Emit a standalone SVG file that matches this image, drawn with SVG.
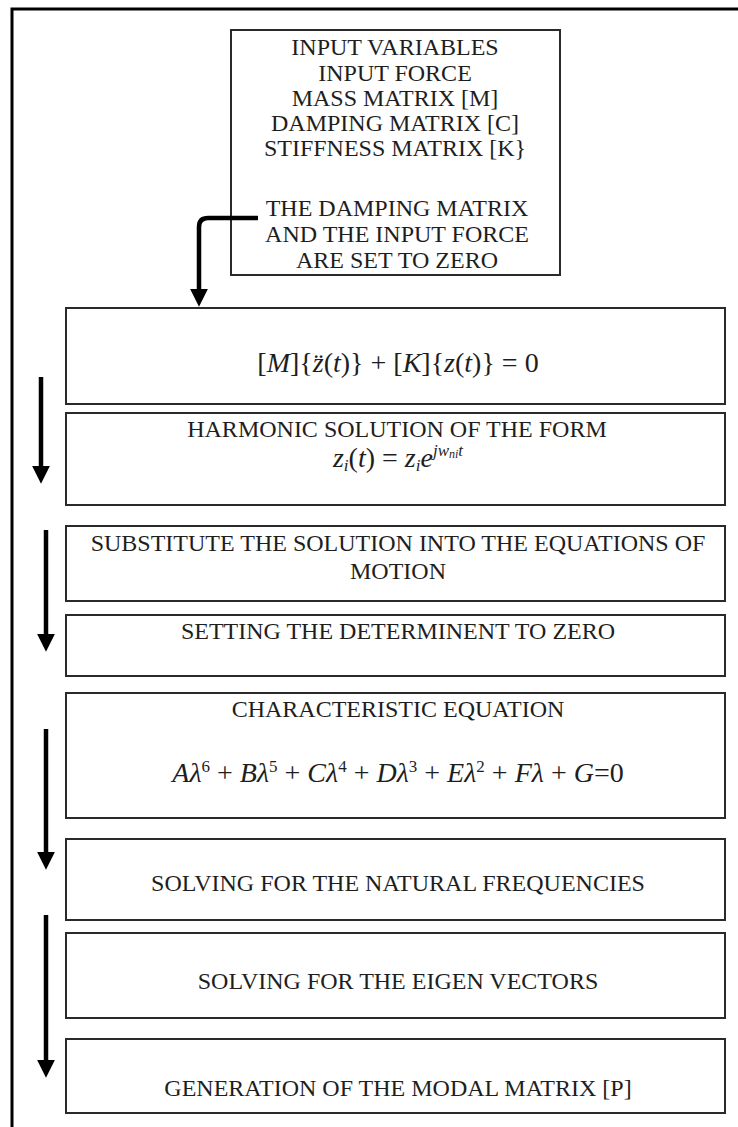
<svg xmlns="http://www.w3.org/2000/svg" width="738" height="1127" viewBox="0 0 738 1127">
<style>
.box{fill:#fff;stroke:#2a2a2a;stroke-width:2}
.t{font-family:"Liberation Serif","Times New Roman",serif;font-size:24px;fill:#1e1e1e;text-anchor:middle}
.m{font-family:"Liberation Serif","Times New Roman",serif;font-size:28px;fill:#1e1e1e;text-anchor:middle}
.i{font-style:italic}
.sup{font-size:17px}
.arr{fill:none;stroke:#000;stroke-width:4.5}
</style>
<defs>
<marker id="ah" markerUnits="userSpaceOnUse" markerWidth="18" markerHeight="18" viewBox="0 0 16 16" refX="2" refY="8" orient="auto">
<path d="M0,0 L16,8 L0,16 Z" fill="#000"/>
</marker>
</defs>
<rect x="0" y="0" width="738" height="1127" fill="#fff"/>
<rect x="12" y="9" width="760" height="1140" fill="none" stroke="#000" stroke-width="3"/>

<g id="n0">
<rect class="box" x="231" y="30" width="329" height="245"/>
<text class="t" x="395" y="55">INPUT VARIABLES</text>
<text class="t" x="395" y="81">INPUT FORCE</text>
<text class="t" x="395" y="106">MASS MATRIX [M]</text>
<text class="t" x="395" y="131">DAMPING MATRIX [C]</text>
<text class="t" x="395" y="156">STIFFNESS MATRIX [K}</text>
<text class="t" x="397" y="216">THE DAMPING MATRIX</text>
<text class="t" x="397" y="242">AND THE INPUT FORCE</text>
<text class="t" x="397" y="268">ARE SET TO ZERO</text>
</g>

<g id="n1">
<rect class="box" x="66" y="308" width="659" height="96"/>
<text class="m" x="398" y="372">[<tspan class="i">M</tspan>]{<tspan class="i">z̈</tspan>(<tspan class="i">t</tspan>)} + [<tspan class="i">K</tspan>]{<tspan class="i">z</tspan>(<tspan class="i">t</tspan>)} = 0</text>
</g>

<g id="n2">
<rect class="box" x="66" y="413" width="659" height="92"/>
<text class="t" x="397" y="437">HARMONIC SOLUTION OF THE FORM</text>
<text class="m" x="398" y="467"><tspan class="i">z</tspan><tspan class="i sup" dy="4">i</tspan><tspan dy="-4">(</tspan><tspan class="i">t</tspan>) = <tspan class="i">z</tspan><tspan class="i sup" dy="4">i</tspan><tspan class="i" dy="-4">e</tspan><tspan class="i sup" dy="-11">jw</tspan><tspan class="i" font-size="12" dy="2">ni</tspan><tspan class="i sup" dy="-2">t</tspan></text>
</g>

<g id="n3">
<rect class="box" x="66" y="526" width="659" height="75"/>
<text class="t" x="398" y="551">SUBSTITUTE THE SOLUTION INTO THE EQUATIONS OF</text>
<text class="t" x="398" y="579">MOTION</text>
</g>

<g id="n4">
<rect class="box" x="66" y="615" width="659" height="61"/>
<text class="t" x="398" y="639">SETTING THE DETERMINENT TO ZERO</text>
</g>

<g id="n5">
<rect class="box" x="66" y="693" width="659" height="125"/>
<text class="t" x="398" y="717">CHARACTERISTIC EQUATION</text>
<text class="m" x="398" y="782"><tspan class="i">Aλ</tspan><tspan class="sup" dy="-10">6</tspan><tspan dy="10"> + </tspan><tspan class="i">Bλ</tspan><tspan class="sup" dy="-10">5</tspan><tspan dy="10"> + </tspan><tspan class="i">Cλ</tspan><tspan class="sup" dy="-10">4</tspan><tspan dy="10"> + </tspan><tspan class="i">Dλ</tspan><tspan class="sup" dy="-10">3</tspan><tspan dy="10"> + </tspan><tspan class="i">Eλ</tspan><tspan class="sup" dy="-10">2</tspan><tspan dy="10"> + </tspan><tspan class="i">Fλ</tspan> + <tspan class="i">G</tspan>=0</text>
</g>

<g id="n6">
<rect class="box" x="66" y="839" width="659" height="81"/>
<text class="t" x="398" y="891">SOLVING FOR THE NATURAL FREQUENCIES</text>
</g>

<g id="n7">
<rect class="box" x="66" y="933" width="659" height="85"/>
<text class="t" x="398" y="989">SOLVING FOR THE EIGEN VECTORS</text>
</g>

<g id="n8">
<rect class="box" x="66" y="1039" width="659" height="74"/>
<text class="t" x="398" y="1096">GENERATION OF THE MODAL MATRIX [P]</text>
</g>

<g id="connectors">
<path class="arr" d="M258,218 H208 Q199,218 199,227 V291" marker-end="url(#ah)"/>
<path class="arr" d="M41,377 V468" marker-end="url(#ah)"/>
<path class="arr" d="M46,530 V636" marker-end="url(#ah)"/>
<path class="arr" d="M46,729 V854" marker-end="url(#ah)"/>
<path class="arr" d="M46,915 V1062" marker-end="url(#ah)"/>
</g>
</svg>
